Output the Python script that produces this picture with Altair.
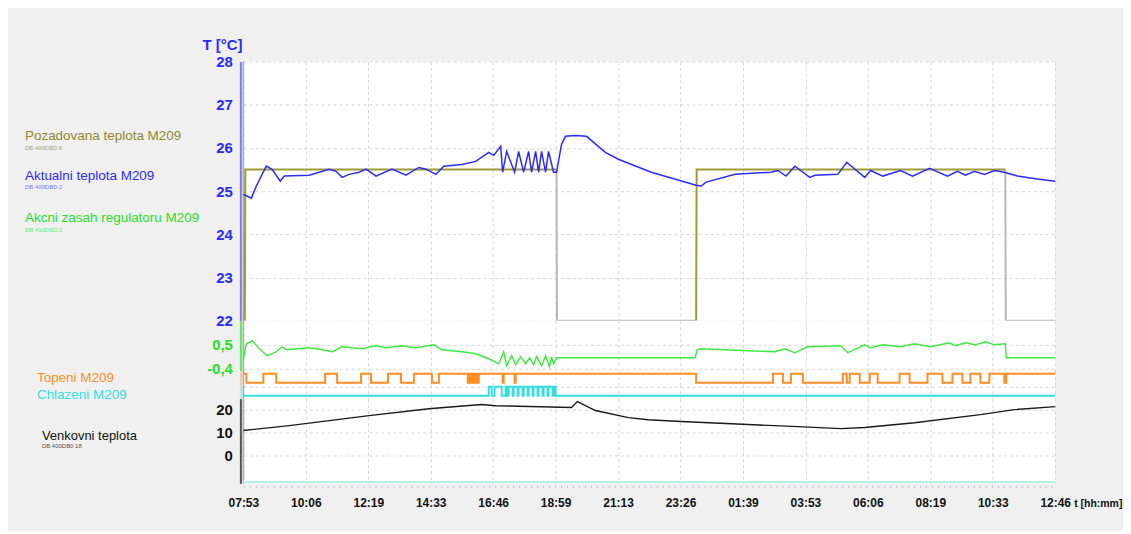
import altair as alt
import pandas as pd

FONT = "Liberation Sans"

# ---------------- data (time = hours elapsed since 07:53) ----------------
TICK_LABELS = ["07:53", "10:06", "12:19", "14:33", "16:46", "18:59", "21:13",
               "23:26", "01:39", "03:53", "06:06", "08:19", "10:33", "12:46"]
SPAN_H = 28.8889

SERIES_LABELS = ["Pozadovana teplota M209", "Aktualni teplota M209",
                 "Akcni zasah regulatoru M209", "Topeni M209", "Chlazeni M209",
                 "Venkovni teplota"]
SERIES_SUBS = ["DB  400DBD   6", "DB  400DBD   2", "DB  410DBD   2", "DB  400DB0   18"]
AXIS_TITLES = ["T [°C]", "t [hh:mm]"]
GREEN_TICKS = [0.5, -0.4]
GREEN_TICK_LABELS = ["0,5", "-0,4"]

# set point (olive = active, grey = off)
SP_TIME = [0.05, 0.07, 11.144, 11.144, 11.16, 16.112, 16.112, 16.13, 27.114, 27.114, 27.13, 28.889]
SP_VALUE = [22.0, 25.5, 25.5, 25.5, 22.0, 22.0, 22.0, 25.5, 25.5, 25.5, 22.0, 22.0]
SP_SEG = [1, 1, 1, 2, 2, 2, 3, 3, 3, 4, 4, 4]
SP_STATE = ["on", "on", "on", "off", "off", "off", "on", "on", "on", "off", "off", "off"]

# actual temperature
ACT_TIME = [0.0, 0.284, 0.461, 0.816, 1.029, 1.313, 1.455, 2.342, 3.052, 3.301, 3.514,
            3.762, 4.117, 4.365, 4.720, 5.288, 5.785, 6.246, 6.495, 6.850, 7.133,
            7.772, 8.269, 8.731, 8.908, 9.156, 9.227, 9.369, 9.653, 9.795, 9.973,
            10.150, 10.257, 10.399, 10.505, 10.612, 10.753, 10.860, 11.037, 11.144,
            11.321, 11.463, 11.818, 12.209, 12.883, 13.344, 14.515, 16.112, 16.290,
            16.467, 17.497, 18.774, 19.023, 19.307, 19.626, 20.158, 20.336, 21.152,
            21.471, 22.110, 22.323, 22.749, 23.388, 23.814, 24.417, 25.056, 25.411,
            25.695, 26.014, 26.369, 26.724, 27.079, 27.540, 28.250, 28.889]
ACT_TEMP = [24.93, 24.84, 25.12, 25.58, 25.50, 25.23, 25.35, 25.37, 25.51, 25.46, 25.32,
            25.39, 25.44, 25.51, 25.35, 25.51, 25.37, 25.55, 25.51, 25.39, 25.58,
            25.62, 25.69, 25.90, 25.83, 26.04, 25.44, 25.92, 25.44, 25.92, 25.44,
            25.92, 25.44, 25.92, 25.44, 25.92, 25.44, 25.92, 25.44, 25.44,
            26.08, 26.27, 26.29, 26.27, 25.90, 25.74, 25.44, 25.14, 25.12,
            25.21, 25.39, 25.44, 25.48, 25.35, 25.58, 25.32, 25.37, 25.39,
            25.67, 25.32, 25.48, 25.35, 25.48, 25.35, 25.53, 25.35, 25.46,
            25.37, 25.46, 25.39, 25.48, 25.44, 25.35, 25.28, 25.23]

# controller output
CTRL_TIME = [0.0, 0.106, 0.319, 0.568, 0.852, 1.171, 1.384, 1.526, 2.342, 2.804, 3.159,
             3.514, 4.223, 4.720, 5.075, 5.643, 6.140, 6.779, 7.063, 7.772, 8.269,
             8.731, 9.085, 9.263, 9.369, 9.547, 9.689, 9.866, 10.044, 10.186, 10.328,
             10.434, 10.612, 10.753, 10.895, 10.966, 11.037, 11.144, 16.077, 16.148,
             16.290, 17.958, 18.916, 19.271, 19.626, 20.087, 21.258, 21.507, 22.110,
             22.323, 22.749, 23.388, 23.885, 24.453, 25.127, 25.340, 25.695, 26.050,
             26.405, 26.724, 27.114, 27.150, 28.889]
CTRL_VALUE = [-0.025, 0.538, 0.65, 0.35, 0.088, 0.238, 0.425, 0.313, 0.388, 0.313, 0.238,
              0.425, 0.35, 0.463, 0.388, 0.463, 0.388, 0.5, 0.313, 0.238, 0.163,
              -0.025, -0.213, 0.238, -0.288, 0.088, -0.25, 0.05, -0.213, 0.013, -0.25,
              0.05, -0.288, 0.088, -0.325, 0.05, -0.213, 0.013, 0.013, 0.313,
              0.35, 0.275, 0.238, 0.35, 0.2, 0.425, 0.463, 0.2, 0.5,
              0.388, 0.5, 0.425, 0.538, 0.425, 0.575, 0.463, 0.575, 0.5,
              0.613, 0.5, 0.538, 0.013, 0.013]

# heating on/off
HEAT_TIME = [0.0, 0.106, 0.710, 1.171, 2.910, 3.336, 4.188, 4.543, 5.146, 5.607, 6.069,
             6.708, 6.956, 7.985, 8.021, 8.056, 8.092, 8.127, 8.163, 8.198, 8.234,
             8.269, 8.305, 8.340, 8.376, 9.227, 9.263, 9.653, 9.689, 16.112, 18.845,
             19.200, 19.484, 19.910, 21.329, 21.471, 21.578, 21.933, 22.288, 22.572,
             23.352, 23.707, 24.346, 24.878, 25.233, 25.588, 25.872, 26.227, 26.547,
             27.079, 27.150, 28.889]
HEAT_STATE = [1, 0, 1, 0, 1, 0, 1, 0, 1, 0, 1,
              0, 1, 0, 1, 0, 1, 0, 1, 0, 1,
              0, 1, 0, 1, 0, 1, 0, 1, 0, 1,
              0, 1, 0, 1, 0, 1, 0, 1, 0,
              1, 0, 1, 0, 1, 0, 1, 0, 1,
              0, 1, 1]

# cooling on/off
COOL_TIME = [0.0, 8.731, 8.837, 8.943, 9.192, 9.334, 9.405, 9.440, 9.582, 9.618, 9.760,
             9.795, 9.937, 9.973, 10.115, 10.150, 10.292, 10.328, 10.470, 10.505,
             10.647, 10.683, 10.824, 10.860, 11.002, 11.037, 11.108, 28.889]
COOL_STATE = [0, 1, 0, 1, 0, 1, 0, 1, 0, 1, 0,
              1, 0, 1, 0, 1, 0, 1, 0, 1,
              0, 1, 0, 1, 0, 1, 0, 0]

# outdoor temperature
OUT_TIME = [0.0, 1.633, 4.472, 6.601, 8.482, 8.979, 11.676, 11.889, 12.528, 13.699,
            14.409, 15.580, 17.958, 19.732, 21.258, 22.110, 23.885, 26.227, 27.434, 28.889]
OUT_TEMP = [10.9, 13.0, 17.4, 20.4, 22.2, 21.7, 20.9, 23.5, 19.6, 16.5,
            15.6, 14.8, 13.5, 12.6, 11.7, 12.2, 14.3, 17.8, 20.0, 21.3]

# faint trace along the bottom of the outdoor panel
BASE_TIME = [0.0, 28.889]
BASE_VALUE = [-11.6, -11.6]

# ---------------- styling ----------------
OLIVE = "#9e9b35"
OLIVE_TXT = "#8d8a2c"
GREY_OFF = "#b8b8b8"
BLUE = "#2b2bff"
GREEN = "#3bea3b"
GREEN_TXT = "#25e025"
ORANGE = "#ff8d22"
CYAN = "#33dede"
BLACK = "#1a1a1a"
GRID = "#d4d4d4"
W = 814

TICKS = [i * SPAN_H / 13 for i in range(14)]
LAB_EXPR = "[" + ",".join("'%s'" % s for s in TICK_LABELS) + "][round(datum.value / %f)]" % (SPAN_H / 13)


def make_x(bottom):
    kw = dict(values=TICKS, grid=True, gridColor=GRID, gridDash=[3, 3], gridWidth=1,
              ticks=False, title=None, labels=bottom, domain=bottom)
    if bottom:
        kw.update(labelExpr=LAB_EXPR, labelFont=FONT, labelFontSize=12, labelFontWeight="bold",
                  labelColor="#111111", labelPadding=11, labelFlush=False, labelOverlap=False,
                  domainColor="#9a9a9a", domainDash=[1, 5], domainWidth=1, offset=3)
    return alt.X("t:Q", scale=alt.Scale(domain=[0, SPAN_H], nice=False, zero=False),
                 axis=alt.Axis(**kw))


def make_y(field, domain, values, color, dom_color, grid=True, labels=True, expr=None):
    kw = dict(values=values, grid=grid, gridColor=GRID, gridDash=[3, 3], gridWidth=1,
              ticks=False, title=None, labels=labels, domainColor=dom_color, domainWidth=2,
              offset=3, labelFont=FONT, labelFontSize=15, labelFontWeight="bold",
              labelColor=color, labelPadding=8, labelFlush=False, labelOverlap=False)
    if expr:
        kw["labelExpr"] = expr
    return alt.Y(field + ":Q", scale=alt.Scale(domain=domain, nice=False, zero=False),
                 axis=alt.Axis(**kw))


def label(text, x, y, color, size, weight="normal", align="left"):
    return alt.Chart(pd.DataFrame({"s": [text]})).mark_text(
        align=align, baseline="middle", font=FONT, fontSize=size, fontWeight=weight, color=color
    ).encode(x=alt.value(x), y=alt.value(y), text="s:N")


def edge(xenc):
    return alt.Chart(pd.DataFrame({"t": [0.0]})).mark_rule(color="#a9a9a9", strokeWidth=1.5).encode(x=xenc)


# ---------- panel A : room temperature ----------
xA = make_x(False)
yA = make_y("v", [22, 28], [22, 23, 24, 25, 26, 27, 28], BLUE, "#7c7cff")
sp_df = pd.DataFrame({"t": SP_TIME, "v": SP_VALUE, "seg": SP_SEG, "state": SP_STATE,
                      "i": list(range(len(SP_TIME)))})
act_df = pd.DataFrame({"t": ACT_TIME, "v": ACT_TEMP})
setpoint = alt.Chart(sp_df).mark_line(strokeWidth=2).encode(
    x=xA, y=yA, detail="seg:N", order="i:Q",
    color=alt.Color("state:N", scale=alt.Scale(domain=["on", "off"], range=[OLIVE, GREY_OFF]), legend=None))
actual = alt.Chart(act_df).mark_line(color=BLUE, strokeWidth=1.5).encode(x=xA, y=yA)
panelA = alt.layer(
    edge(xA), setpoint, actual,
    label(AXIS_TITLES[0], -21, -17, BLUE, 15, "bold", "center"),
    label(SERIES_LABELS[0], -219, 75, OLIVE_TXT, 13.5),
    label(SERIES_SUBS[0], -219, 87, "#a9a66a", 6),
    label(SERIES_LABELS[1], -219, 115, BLUE, 13.5),
    label(SERIES_SUBS[1], -219, 126, "#7777ff", 6),
    label(SERIES_LABELS[2], -219, 157, GREEN_TXT, 13.5),
    label(SERIES_SUBS[2], -219, 169, "#66ee66", 6),
).properties(width=W, height=260)

# ---------- panel B : controller output ----------
xB = make_x(False)
g_expr = "datum.value > 0 ? '%s' : '%s'" % (GREEN_TICK_LABELS[0], GREEN_TICK_LABELS[1])
yB = make_y("u", [-0.475, 1.4], GREEN_TICKS, GREEN_TXT, "#55ee55", expr=g_expr)
ctrl = alt.Chart(pd.DataFrame({"t": CTRL_TIME, "u": CTRL_VALUE})).mark_line(
    color=GREEN, strokeWidth=1.4).encode(x=xB, y=yB)
panelB = alt.layer(edge(xB), ctrl).properties(width=W, height=50)

# ---------- panel C : heating ----------
xC = make_x(False)
yC = make_y("h", [-0.222, 1.333], [], ORANGE, "#f9c89a", grid=False, labels=False)
heat = alt.Chart(pd.DataFrame({"t": HEAT_TIME, "h": HEAT_STATE})).mark_line(
    color=ORANGE, strokeWidth=2, interpolate="step-after").encode(x=xC, y=yC)
panelC = alt.layer(edge(xC), heat, label(SERIES_LABELS[3], -207, 7, ORANGE, 13.5)).properties(width=W, height=14)

# ---------- panel D : cooling ----------
xD = make_x(False)
yD = make_y("c", [-0.333, 1.222], [1], CYAN, "#a6eeee", grid=True, labels=False)
cool = alt.Chart(pd.DataFrame({"t": COOL_TIME, "c": COOL_STATE})).mark_line(
    color=CYAN, strokeWidth=2, interpolate="step-after").encode(x=xD, y=yD)
panelD = alt.layer(edge(xD), cool, label(SERIES_LABELS[4], -207, 10, CYAN, 13.5)).properties(width=W, height=14)

# ---------- panel E : outdoor temperature ----------
xE = make_x(True)
yE = make_y("o", [-12.17, 24.78], [0, 10, 20], "#111111", "#555555")
outdoor = alt.Chart(pd.DataFrame({"t": OUT_TIME, "o": OUT_TEMP})).mark_line(
    color=BLACK, strokeWidth=1.4).encode(x=xE, y=yE)
base = alt.Chart(pd.DataFrame({"t": BASE_TIME, "o": BASE_VALUE})).mark_line(
    color="#b5eeee", strokeWidth=2).encode(x=xE, y=yE)
panelE = alt.layer(
    edge(xE), base, outdoor,
    label(SERIES_LABELS[5], -202, 37, "#111111", 13),
    label(SERIES_SUBS[3], -202, 47, "#555555", 6),
    label(AXIS_TITLES[1], 833, 106, "#111111", 10.5, "bold"),
).properties(width=W, height=85)

chart = alt.vconcat(panelA, panelB, panelC, panelD, panelE, spacing=0, bounds="flush").properties(
    background="#f0f0f0",
    padding={"left": 17, "top": 29, "right": 0, "bottom": 20},
).configure_view(fill="white", strokeWidth=0)

chart.save("out.html", embed_options={"renderer": "svg", "actions": False})
